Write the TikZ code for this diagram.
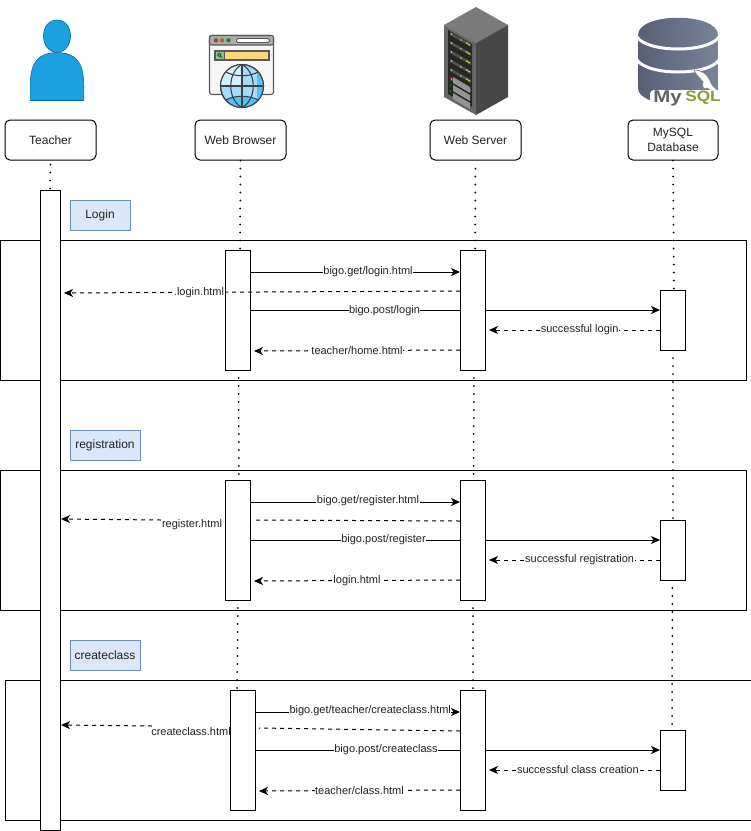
\documentclass[tikz,border=0pt]{standalone}
\usepackage{fontspec}
\usepackage{graphicx}
\setmainfont{Liberation Sans}
\usetikzlibrary{arrows.meta,calc}
\definecolor{notefill}{HTML}{DAE8FC}
\definecolor{notedraw}{HTML}{6C8EBF}
\definecolor{persona}{HTML}{1BA1E2}
\definecolor{personb}{HTML}{006EAF}
\definecolor{txtc}{HTML}{222222}
\definecolor{dbl}{HTML}{585F73}
\definecolor{dbr}{HTML}{78839A}
\definecolor{sqlc}{HTML}{8C9A35}
\definecolor{globea}{HTML}{A3DCFA}
\definecolor{globeb}{HTML}{D2F0FD}
\definecolor{globec}{HTML}{4FC3F7}
\definecolor{barfill}{HTML}{FFD77A}
\definecolor{barfillb}{HTML}{7FCB8F}
\tikzset{
 actor/.style={draw=black,line width=1pt,rounded corners=5pt,fill=white,minimum width=91pt,minimum height=40pt,align=center,inner sep=0pt,font=\fontsize{12}{15}\selectfont,text=txtc},
 frameb/.style={draw=black,line width=1pt,fill=none},
 bar/.style={draw=black,line width=1pt,fill=white},
 note/.style={draw=notedraw,line width=1pt,fill=notefill,inner sep=0pt,font=\fontsize{12}{14}\selectfont,text=txtc},
 life/.style={line width=2pt,line cap=round,dash pattern=on 0pt off 8pt,black},
 msg/.style={line width=1pt,-{Stealth[length=9pt,width=8pt,inset=2.5pt]}},
 rmsg/.style={msg,dash pattern=on 4pt off 4pt},
 dsh/.style={line width=1pt,dash pattern=on 4pt off 4pt},
 lab/.style={fill=white,inner xsep=0.5pt,inner ysep=0.5pt,font=\fontsize{11}{13}\selectfont,text=txtc},
}
\newcommand{\barbox}[5]{\path[bar] (#2,#3) rectangle (#4,#5); \node[inner sep=0pt,minimum size=0pt] (#1) at ({(#2+#4)/2},{(#3+#5)/2}) {};}
\begin{document}
\begin{tikzpicture}[x=1pt,y=-1pt]
\useasboundingbox (0,0) rectangle (751,831);
\fill[white] (0,0) rectangle (751,831);
% person
\fill[persona,draw=personb,line width=.6pt] (57,20) .. controls (48,20) and (43.5,28) .. (43.5,36) .. controls (43.5,44) and (48,52) .. (57,52.5) .. controls (66,52) and (70.5,44) .. (70.5,36) .. controls (70.5,28) and (66,20) .. (57,20) -- cycle;
\fill[persona,draw=personb,line width=.6pt] (30.3,100.5) -- (30.3,85) .. controls (30.5,62) and (38,53) .. (57,52.5) .. controls (76,53) and (83.5,62) .. (83.7,85) -- (83.7,100.5) -- cycle;
% browser icon
\fill[white!97!black,draw=black!65,line width=1.1pt,rounded corners=2.5pt] (209.5,35.5) rectangle (273.5,94.5);
\fill[black!32,draw=black!65,line width=1.1pt,rounded corners=2pt] (209.5,35.5) rectangle (273.5,45);
\fill[red!75!black!80,draw=black!60,line width=.4pt] (216,40.3) circle (2);
\fill[orange!85!black,draw=black!60,line width=.4pt] (222,40.3) circle (2);
\fill[green!60!black,draw=black!60,line width=.4pt] (228.5,40.3) circle (2);
\fill[white,draw=black!65,line width=.9pt,rounded corners=1.5pt] (236.5,38.5) rectangle (269.5,42.5);
\fill[barfill,draw=black!65,line width=1.1pt] (224.5,51) rectangle (269,60);
\fill[barfillb,draw=black!65,line width=1.1pt] (215,51) rectangle (224.5,60);
\draw[black!75,line width=.9pt] (219.3,54.8) circle (1.7) (220.5,56.2) -- (222,57.8);
\fill[globea,draw=black!75,line width=1.1pt] (242,86) circle (21.5);
\begin{scope}
\clip (242,86) circle (21.5);
\fill[globeb] (220,64) rectangle (242,86);
\fill[globec] (257,64) rectangle (264,108);
\fill[globec] (226,100) .. controls (235,95) and (249,95) .. (258,100) -- (258,108) -- (226,108) -- cycle;
\end{scope}
\draw[black!75,line width=1.1pt] (242,86) circle (21.5);
\draw[black!75,line width=1.1pt] (242,64.5) -- (242,107.5) (220.5,86) -- (263.5,86);
\draw[black!75,line width=1.1pt] (242,64.5) .. controls (227,72) and (227,100) .. (242,107.5);
\draw[black!75,line width=1.1pt] (242,64.5) .. controls (257,72) and (257,100) .. (242,107.5);
\draw[black!75,line width=1.1pt] (226,72) .. controls (235,77) and (249,77) .. (258,72);
\draw[black!75,line width=1.1pt] (226,100) .. controls (235,95) and (249,95) .. (258,100);
% server icon
\fill[black!52] (476,7) -- (508,25) -- (476,43) -- (444,25) -- cycle;
\fill[black!60] (444,25) -- (476,43) -- (476,115) -- (444,97) -- cycle;
\fill[black!72] (476,43) -- (508,25) -- (508,97) -- (476,115) -- cycle;
\fill[black!85] (448,30) -- (472,44) -- (472,107) -- (448,94) -- cycle;
\foreach \i in {0,...,5}{
 \fill[black!68] (450,{32+\i*9}) -- (471,{44+\i*9}) -- (471,{47+\i*9}) -- (450,{35+\i*9}) -- cycle;
 \fill[yellow!85!black] (451.5,{34+\i*9}) circle (.9) (461,{40+\i*9}) circle (.9) (467,{43+\i*9}) circle (1) (469,{44.5+\i*9}) circle (1);
}
\foreach \i in {0,1,2}{
 \fill[black!42] (453,{77+\i*8}) -- (470,{87+\i*8}) -- (470,{93+\i*8}) -- (453,{83+\i*8}) -- cycle;
}
\fill[red!70!black] (450.5,79) circle (.9);
\fill[green!60!black] (450.5,85) circle (.9) (450.5,91) circle (.9);
% database icon
\shade[left color=dbl,right color=dbr] (638,35) .. controls (638,12) and (718,12) .. (718,35) -- (718,88) .. controls (718,110) and (638,110) .. (638,88) -- cycle;
\draw[white,line width=3pt] (637,37) .. controls (648,53) and (708,53) .. (719,37);
\draw[white,line width=3pt] (637,60) .. controls (648,76) and (708,76) .. (719,60);
\fill[white,rounded corners=4pt] (650,90) rectangle (724,108);
\draw[black!50,line width=.7pt,fill=white] (694,70) .. controls (703,70) and (708,75) .. (711,83) .. controls (713,87) and (717,89) .. (721,94) .. controls (716,92) and (711,91) .. (707,88) .. controls (703,91) and (702,86) .. (703,82) .. controls (700,78) and (696,75) .. (694,70) -- cycle;
\fill[white] (684,90) rectangle (724,95);
\node[inner sep=0pt,text=black!62,font=\bfseries\fontsize{17}{17}\selectfont] (mysqlmy) at (667.5,98.5) {\scalebox{1.2}[1]{My}};
\node[inner sep=0pt,text=sqlc,font=\bfseries\fontsize{15}{15}\selectfont] (mysqlsql) at (703,98) {\scalebox{1.15}[1]{SQL}};
% actors
\node[actor] (teacher) at (50.5,140) {Teacher};
\node[actor] (browser) at (240.5,140) {Web Browser};
\node[actor] (server) at (475.5,140) {Web Server};
\node[actor,minimum width=90pt] (mysql) at (673,140) {MySQL\\Database};
% frames
\node[frameb,minimum width=746pt,minimum height=140pt,inner sep=0pt] (f1) at (373,310) {};
\node[frameb,minimum width=746pt,minimum height=140pt,inner sep=0pt] (f2) at (373,540) {};
\node[frameb,minimum width=746pt,minimum height=140pt,inner sep=0pt] (f3) at (378,750) {};
% lifelines
\coordinate (t0) at (50,190);
\coordinate (b1a) at (240,250); \coordinate (b1b) at (238.5,370); \coordinate (b2a) at (239,480); \coordinate (b2b) at (238,600); \coordinate (b3a) at (237,690);
\coordinate (s1a) at (475,250); \coordinate (s1b) at (474,370); \coordinate (s2a) at (473.5,480); \coordinate (s2b) at (473,600); \coordinate (s3a) at (473,690);
\coordinate (d1a) at (674,290); \coordinate (d1b) at (673,350); \coordinate (d2a) at (673,520); \coordinate (d2b) at (672.5,580); \coordinate (d3a) at (672,730);
\draw[life] (teacher.south) ++(0,4) -- (t0);
\draw[life] (browser.south) -- (b1a);
\draw[life] (b1b) -- (b2a);
\draw[life] (b2b) -- (b3a);
\draw[life] (server.south) ++(0,8) -- (s1a);
\draw[life] (s1b) -- (s2a);
\draw[life] (s2b) -- (s3a);
\draw[life] (mysql.south) -- (d1a);
\draw[life] (d1b) -- (d2a);
\draw[life] (d2b) -- (d3a);
% solid through-lines under bars
\coordinate (p1a) at (250,310); \coordinate (p1b) at (660,310);
\coordinate (p2a) at (250,540); \coordinate (p2b) at (660,540);
\coordinate (p3a) at (255,750); \coordinate (p3b) at (660,750);
\draw[msg] (p1a) -- (p1b);
\draw[msg] (p2a) -- (p2b);
\draw[msg] (p3a) -- (p3b);
% bars
\barbox{tb}{40}{190}{60}{830}
\barbox{bb1}{225}{250}{250}{370}
\barbox{sb1}{460}{250}{485}{370}
\barbox{db1}{660}{290}{685}{350}
\barbox{bb2}{225}{480}{250}{600}
\barbox{sb2}{460}{480}{485}{600}
\barbox{db2}{660}{520}{685}{580}
\barbox{bb3}{230}{690}{255}{810}
\barbox{sb3}{460}{690}{485}{810}
\barbox{db3}{660}{730}{685}{790}
% notes
\node[note,minimum width=60pt,minimum height=30pt] (n1) at (100,215) {Login};
\node[note,minimum width=70pt,minimum height=30pt] (n2) at (105,445) {registration};
\node[note,minimum width=70pt,minimum height=30pt] (n3) at (105,655) {createclass};
% labels on post lines
\node[lab] (lp1) at (384.5,310.5) {bigo.post/login};
\node[lab] (lp2) at (383.5,540) {bigo.post/register};
\node[lab] (lp3) at (386,750) {bigo.post/createclass};
% login
\coordinate (a1) at (251,272); \coordinate (a2) at (460,272);
\draw[msg] (a1) -- node[lab,pos=.56] (la1) {bigo.get/login.html} (a2);
\coordinate (a3) at (460,291); \coordinate (a4) at (64,293);
\draw[rmsg] (a3) -- node[lab,pos=.659] (la3) {.login.html} (a4);
\coordinate (a5) at (660,330); \coordinate (a6) at (489,330);
\draw[rmsg] (a5) -- node[lab,pos=.47] (la5) {successful login} (a6);
\coordinate (a7) at (460,350); \coordinate (a8) at (254,351);
\draw[rmsg] (a7) -- node[lab,pos=.5] (la7) {teacher/home.html} (a8);
% registration
\coordinate (c1) at (251,502); \coordinate (c2) at (460,502);
\draw[msg] (c1) -- node[lab,pos=.56,yshift=1.5pt] (lc1) {bigo.get/register.html} (c2);
\coordinate (c3) at (460,521); \coordinate (c4) at (252,520);
\draw[dsh] (c3) -- (c4);
\node[lab,fill=none] (lc3) at (192,524.5) {register.html};
\coordinate (c5) at (161,520); \coordinate (c6) at (61,519);
\draw[rmsg] (c5) -- (c6);
\coordinate (c7) at (660,560); \coordinate (c8) at (489,560);
\draw[rmsg] (c7) -- node[lab,pos=.47] (lc7) {successful registration} (c8);
\coordinate (c9) at (460,580); \coordinate (c10) at (254,581);
\draw[rmsg] (c9) -- node[lab,pos=.5] (lc9) {login.html} (c10);
% createclass
\coordinate (e1) at (256,712); \coordinate (e2) at (460,712);
\draw[msg] (e1) -- node[lab,pos=.56,yshift=1.5pt] (le1) {bigo.get/teacher/createclass.html} (e2);
\coordinate (e3) at (460,731); \coordinate (e4) at (259,728);
\draw[dsh] (e3) -- (e4);
\node[lab,fill=none] (le3) at (191,732) {createclass.html};
\coordinate (e5) at (152,726); \coordinate (e6) at (61,725);
\draw[rmsg] (e5) -- (e6);
\coordinate (e7) at (660,770); \coordinate (e8) at (489,770);
\draw[rmsg] (e7) -- node[lab,pos=.48] (le7) {successful class creation} (e8);
\coordinate (e9) at (460,790); \coordinate (e10) at (259,791);
\draw[rmsg] (e9) -- node[lab,pos=.5] (le9) {teacher/class.html} (e10);
\end{tikzpicture}
\end{document}
